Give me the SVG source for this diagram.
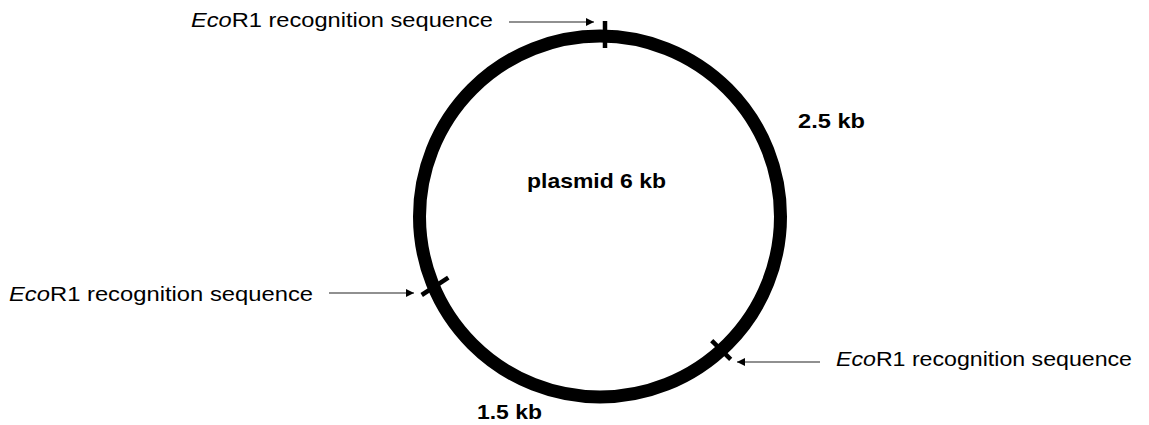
<svg xmlns="http://www.w3.org/2000/svg" width="1149" height="425" viewBox="0 0 1149 425">
<style>
.lbl{font-family:"Liberation Sans",Arial,sans-serif;font-size:21px;fill:#000}
.b{font-weight:bold}
.tick{stroke:#000;stroke-width:4.5;fill:none}
.conn{stroke:#222;stroke-width:1.2;fill:none}
</style>
<defs>
<marker id="ah" viewBox="0 0 10 10" refX="10" refY="5" markerWidth="10" markerHeight="8" markerUnits="userSpaceOnUse" orient="auto">
<path d="M0,0 L10,5 L0,10 Z" fill="#000"/>
</marker>
</defs>
<rect width="1149" height="425" fill="#fff"/>
<g id="plasmid">
<circle cx="600" cy="216.5" r="180.5" fill="none" stroke="#000" stroke-width="13"/>
<text class="lbl b" x="527" y="188" textLength="139" lengthAdjust="spacingAndGlyphs">plasmid 6 kb</text>
</g>
<g id="site-top">
<line class="tick" x1="605" y1="21" x2="605" y2="48"/>
<text class="lbl" x="191" y="27" textLength="302" lengthAdjust="spacingAndGlyphs"><tspan font-style="italic">Eco</tspan>R1 recognition sequence</text>
</g>
<g id="site-left">
<line class="tick" x1="421.7" y1="295" x2="448.3" y2="277.7"/>
<text class="lbl" x="9" y="301" textLength="304" lengthAdjust="spacingAndGlyphs"><tspan font-style="italic">Eco</tspan>R1 recognition sequence</text>
</g>
<g id="site-right">
<line class="tick" x1="711.7" y1="340.7" x2="730.7" y2="359.3"/>
<text class="lbl" x="836" y="366" textLength="296" lengthAdjust="spacingAndGlyphs"><tspan font-style="italic">Eco</tspan>R1 recognition sequence</text>
</g>
<g id="len-25">
<text class="lbl b" x="798" y="128" textLength="67" lengthAdjust="spacingAndGlyphs">2.5 kb</text>
</g>
<g id="len-15">
<text class="lbl b" x="477" y="419" textLength="65" lengthAdjust="spacingAndGlyphs">1.5 kb</text>
</g>
<g id="connectors">
<line class="conn" x1="509" y1="22" x2="594" y2="22" marker-end="url(#ah)"/>
<line class="conn" x1="329" y1="293" x2="414" y2="293" marker-end="url(#ah)"/>
<line class="conn" x1="820" y1="362" x2="737" y2="362" marker-end="url(#ah)"/>
</g>
</svg>
